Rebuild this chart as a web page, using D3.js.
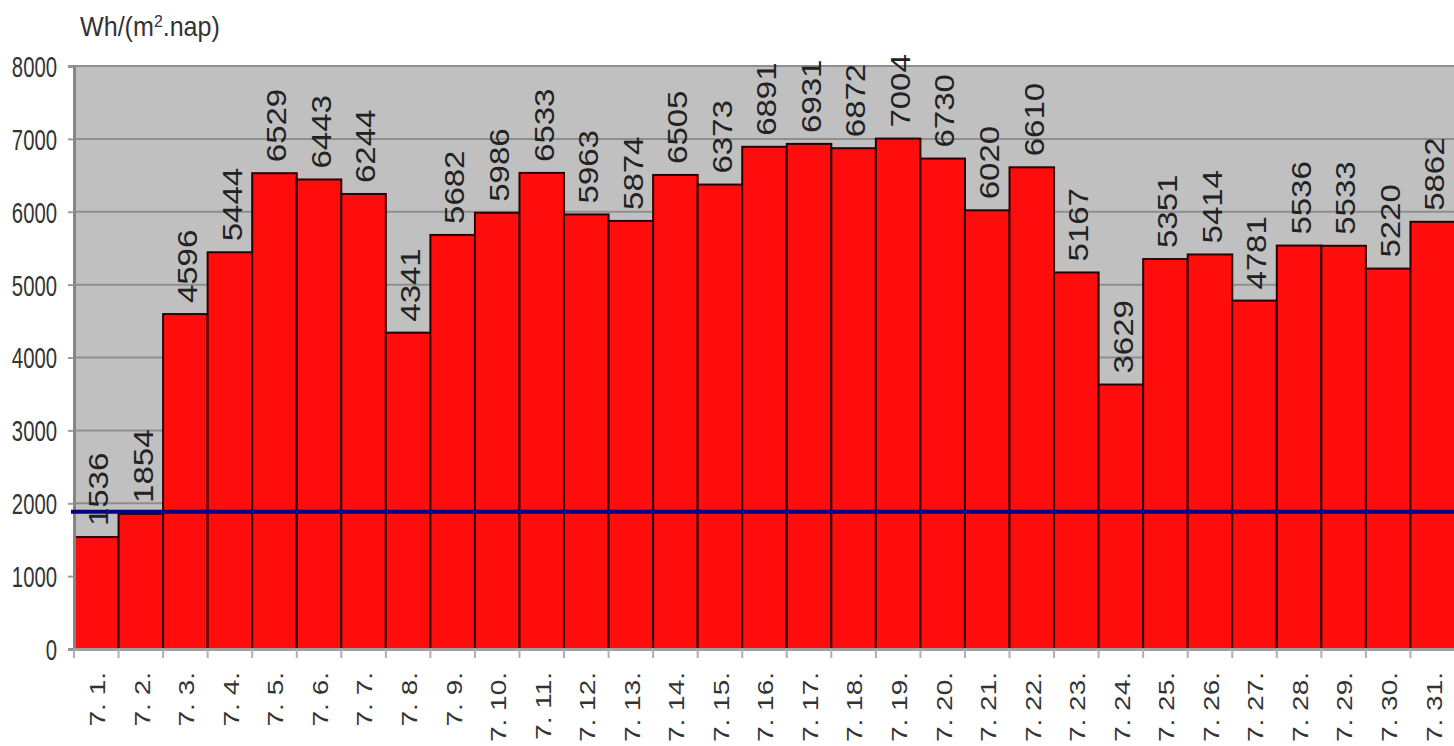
<!DOCTYPE html>
<html>
<head>
<meta charset="utf-8">
<script src="https://cdn.jsdelivr.net/npm/d3@7"></script>
<style>
  html, body { margin: 0; padding: 0; background: #ffffff; }
  svg { display: block; }
  text { font-family: "Liberation Sans", Arial, sans-serif; }
</style>
</head>
<body>
<svg id="chart" width="1454" height="746"></svg>
<script>
// Daily solar irradiation in July, Wh/(m².nap)
const days = ["7. 1.", "7. 2.", "7. 3.", "7. 4.", "7. 5.", "7. 6.", "7. 7.", "7. 8.", "7. 9.", "7. 10.",
  "7. 11.", "7. 12.", "7. 13.", "7. 14.", "7. 15.", "7. 16.", "7. 17.", "7. 18.", "7. 19.", "7. 20.",
  "7. 21.", "7. 22.", "7. 23.", "7. 24.", "7. 25.", "7. 26.", "7. 27.", "7. 28.", "7. 29.", "7. 30.", "7. 31."];
const irradiation = [1536, 1854, 4596, 5444, 6529, 6443, 6244, 4341, 5682, 5986,
  6533, 5963, 5874, 6505, 6373, 6891, 6931, 6872, 7004, 6730,
  6020, 6610, 5167, 3629, 5351, 5414, 4781, 5536, 5533, 5220, 5862];
const referenceLevel = [1885];
const yTicks = [0, 1000, 2000, 3000, 4000, 5000, 6000, 7000, 8000];
const unitLabel = "Wh/(m";
const unitSup = "2";
const unitRest = ".nap)";

const svg = d3.select("#chart");
const plotLeft = 74, plotRight = 1455, plotTop = 66, plotBottom = 649;

const x = d3.scaleBand().domain(days).range([plotLeft, plotRight]).paddingInner(0).paddingOuter(0);
const y = d3.scaleLinear().domain([0, 8000]).range([plotBottom, plotTop]);

// plot area background
svg.append("rect")
  .attr("x", plotLeft).attr("y", plotTop)
  .attr("width", plotRight - plotLeft).attr("height", plotBottom - plotTop)
  .attr("fill", "#c0c0c0");

// horizontal gridlines
svg.append("g").selectAll("line").data(yTicks.filter(d => d > 0)).join("line")
  .attr("x1", plotLeft).attr("x2", plotRight)
  .attr("y1", d => y(d)).attr("y2", d => y(d))
  .attr("stroke", "#8e8e8e").attr("stroke-width", 2);

// bars
svg.append("g").selectAll("rect").data(irradiation).join("rect")
  .attr("x", (d, i) => x(days[i]))
  .attr("y", d => y(d))
  .attr("width", x.bandwidth())
  .attr("height", d => plotBottom - y(d))
  .attr("fill", "#ff0d0d")
  .attr("stroke", "#2a0000")
  .attr("stroke-width", 2);

// y axis
const yAxis = d3.axisLeft(y).tickValues(yTicks).tickSize(6).tickPadding(0).tickFormat(d3.format("d"));
const gy = svg.append("g").attr("transform", `translate(${plotLeft},0)`).call(yAxis);
gy.select(".domain").attr("stroke", "#858585").attr("stroke-width", 3);
gy.selectAll(".tick line").attr("stroke", "#9a9a9a").attr("stroke-width", 2);
gy.selectAll(".tick text").remove();
gy.selectAll(".tick").append("text")
  .attr("transform", "translate(-17,0) scale(0.7,1)")
  .attr("text-anchor", "end")
  .attr("dy", "0.36em")
  .attr("fill", "#333")
  .attr("font-size", 29)
  .text(d => d);

// x axis
const xAxis = d3.axisBottom(x).tickSize(0).tickFormat("");
const gx = svg.append("g").attr("transform", `translate(0,${plotBottom})`).call(xAxis);
gx.select(".domain").attr("stroke", "#a0a0a0").attr("stroke-width", 3);
gx.selectAll(".tick").remove();
// tick marks at band boundaries
gx.append("g").selectAll("line").data(days).join("line")
  .attr("x1", d => x(d)).attr("x2", d => x(d))
  .attr("y1", 0).attr("y2", 9)
  .attr("stroke", "#b0b0b0").attr("stroke-width", 2);

// category labels, rotated
svg.append("g").selectAll("text").data(days).join("text")
  .attr("transform", d => `translate(${x(d) + x.bandwidth() / 2 + 1},672) scale(0.78,1) rotate(-90)`)
  .attr("text-anchor", "end")
  .attr("dy", "0.36em")
  .attr("fill", "#333")
  .attr("font-size", 28)
  .style("white-space", "pre")
  .text(d => d);

// reference line
svg.append("g").selectAll("line").data(referenceLevel).join("line")
  .attr("x1", plotLeft - 3).attr("x2", plotRight)
  .attr("y1", d => y(d)).attr("y2", d => y(d))
  .attr("stroke", "#000080").attr("stroke-width", 4);

// value labels above bars
svg.append("g").selectAll("text").data(irradiation).join("text")
  .attr("transform", (d, i) => `translate(${x(days[i]) + x.bandwidth() / 2 + 2},${y(d) - 11}) scale(0.82,1) rotate(-90)`)
  .attr("text-anchor", "start")
  .attr("dy", "0.36em")
  .attr("fill", "#222")
  .attr("font-size", 33)
  .text(d => d);

// unit label
const unit = svg.append("text")
  .attr("transform", "translate(80,36) scale(0.93,1)")
  .attr("fill", "#333")
  .attr("font-size", 27);
unit.append("tspan").text(unitLabel);
unit.append("tspan").attr("font-size", 17).attr("dy", -9).text(unitSup);
unit.append("tspan").attr("dy", 9).text(unitRest);
</script>
</body>
</html>
